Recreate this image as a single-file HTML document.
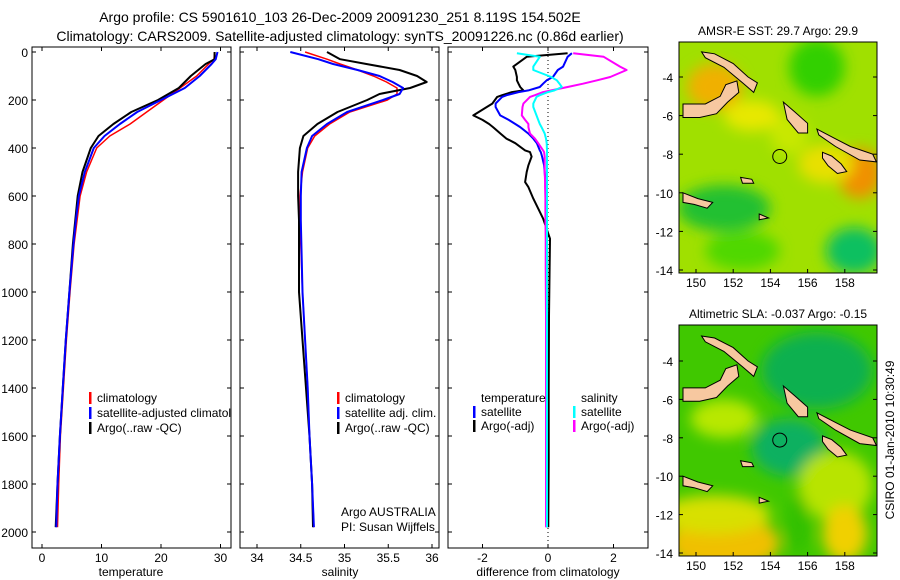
<!DOCTYPE html>
<html><head><meta charset="utf-8"><style>
body{margin:0;background:#fff;}
svg{display:block;font-family:"Liberation Sans",sans-serif;}
text{font-size:12px;fill:#000;}
</style></head><body>
<svg id="c" width="900" height="580" viewBox="0 0 900 580">
<defs>
<clipPath id="cp1"><rect x="32" y="47" width="199" height="501"/></clipPath>
<clipPath id="cp2"><rect x="240" y="47" width="199" height="501"/></clipPath>
<clipPath id="cp3"><rect x="448" y="47" width="200" height="501"/></clipPath>
<clipPath id="cm1"><rect x="679" y="42" width="198" height="231"/></clipPath>
<clipPath id="cm2"><rect x="679" y="325" width="198" height="231"/></clipPath>
<filter id="bl" x="-50%" y="-50%" width="200%" height="200%"><feGaussianBlur stdDeviation="7"/></filter>
<filter id="bl2" x="-50%" y="-50%" width="200%" height="200%"><feGaussianBlur stdDeviation="3"/></filter>
</defs>
<text x="340" y="22" text-anchor="middle" style="font-size:14px">Argo profile: CS 5901610_103 26-Dec-2009 20091230_251 8.119S 154.502E</text>
<text x="340" y="41" text-anchor="middle" style="font-size:14px">Climatology: CARS2009. Satellite-adjusted climatology: synTS_20091226.nc (0.86d earlier)</text>
<g id="g"></g>
<text transform="translate(894,440) rotate(-90)" text-anchor="middle">CSIRO 01-Jan-2010 10:30:49</text>
</svg>
<script>
// ---- data ----
const depthsT = [0,30,50,100,150,200,250,300,350,400,500,600,700,800,1000,1200,1400,1600,1800,1980];
const tempClim = [29,28.9,28,26,23.2,20.4,17.6,14.8,11.4,9.2,7.5,6.4,5.9,5.4,4.7,4.1,3.6,3.1,2.8,2.6];
const tempSat  = [29.5,29.2,28.5,26.5,24,20,16,13.1,10.5,8.7,7.2,6.2,5.7,5.3,4.6,4.0,3.5,3.0,2.6,2.4];
const tempArgo = [29,29,27.5,25,23,19.5,15,12,9.5,8.2,6.8,6,5.6,5.2,4.6,4.0,3.5,3.0,2.6,2.3];
const depthsS = [0,30,50,75,100,125,150,175,200,250,300,350,400,500,600,700,1000,1200,1400,1600,1800,1980];
const salClim = [34.55,34.8,34.95,35.15,35.33,35.48,35.6,35.6,35.49,35.06,34.83,34.66,34.58,34.52,34.49,34.49,34.52,34.55,34.58,34.6,34.63,34.65];
const salSat  = [34.38,34.7,34.87,35.15,35.4,35.55,35.67,35.63,35.44,35.03,34.8,34.63,34.57,34.51,34.5,34.5,34.52,34.55,34.58,34.6,34.63,34.65];
const salArgo = [34.8,34.95,35.25,35.63,35.83,35.94,35.75,35.4,35.26,34.92,34.69,34.53,34.49,34.47,34.47,34.48,34.48,34.52,34.56,34.6,34.63,34.64];
const depthsD = [5,20,61,75,104,118,132,146,160,167,180,187,215,229,264,283,300,313,340,361,380,410,417,436,472,500,542,563,611,694,778,900,1100,1400,1700,1980];
const dTempSat = [0.73,0.6,0.46,0.3,0.15,-0.04,-0.15,-0.25,-0.6,-0.9,-1.26,-1.4,-1.6,-1.6,-1.46,-1.2,-1.0,-0.85,-0.6,-0.45,-0.34,-0.25,-0.22,-0.18,-0.12,-0.1,-0.08,-0.08,-0.07,-0.06,-0.05,-0.05,-0.04,-0.04,-0.03,-0.03];
const dTempArgo = [0.6,-0.65,-1.06,-1.0,-0.95,-0.95,-0.9,-0.85,-0.75,-1.1,-1.4,-1.55,-1.7,-1.87,-2.28,-2.0,-1.8,-1.68,-1.45,-1.27,-1.0,-0.7,-0.55,-0.5,-0.6,-0.65,-0.7,-0.6,-0.45,-0.15,0.06,0.05,0.03,0.02,0.02,0.01];
const dSalSat = [-0.95,-0.25,-0.45,-0.45,0.1,0.27,0.35,0.42,0.2,0.0,-0.25,-0.35,-0.45,-0.45,-0.35,-0.3,-0.25,-0.2,-0.1,-0.06,-0.04,-0.03,-0.03,-0.03,-0.03,-0.03,-0.03,-0.03,-0.03,-0.03,-0.03,-0.03,-0.03,-0.03,-0.03,-0.03];
const dSalArgo = [0.77,1.7,2.2,2.4,1.9,1.5,1.07,0.6,0.1,-0.15,-0.4,-0.55,-0.75,-0.78,-0.8,-0.7,-0.6,-0.6,-0.55,-0.4,-0.3,-0.15,-0.12,-0.1,-0.1,-0.1,-0.09,-0.09,-0.08,-0.08,-0.07,-0.07,-0.06,-0.06,-0.06,-0.06];
const depthTicks = [0,200,400,600,800,1000,1200,1400,1600,1800,2000];
const tempTicks = [0,10,20,30];
const salTicks = [34,34.5,35,35.5,36];
const salLabels = ["34","34.5","35","35.5","36"];
const diffTicks = [-2,0,2];
const lonTicks = [150,152,154,156,158];
const latTicks = [-4,-6,-8,-10,-12,-14];
const floatLon = 154.502, floatLat = -8.119;

// ---- scales ----
const yD = d => 52 + d*0.24;
const xT = t => 42 + t*5.95;
const xS = s => 257 + (s-34)*87.5;
const xDf = v => 548 + v*32.75;
const mx = lon => 696 + (lon-150)*18.6;
const my1 = lat => 77 + (-4-lat)*19.3;
const my2 = lat => 361 + (-4-lat)*19.2;

const NS='http://www.w3.org/2000/svg';
const G=document.getElementById('g');
function el(tag,attrs,parent){const e=document.createElementNS(NS,tag);for(const k in attrs)e.setAttribute(k,attrs[k]);(parent||G).appendChild(e);return e;}
function txt(x,y,s,anchor,parent){const t=el('text',{x:x,y:y,'text-anchor':anchor||'start'},parent);t.textContent=s;return t;}

function panel(x0,x1,clip,name){
  const g=el('g',{});
  
  
  const f=el('rect',{x:x0,y:47,width:x1-x0,height:501,fill:'#fff',stroke:'#000','stroke-width':1},g);
  
  
  depthTicks.forEach(d=>{el('line',{x1:x0,x2:x0+4,y1:yD(d),y2:yD(d),stroke:'#000'},g);el('line',{x1:x1-4,x2:x1,y1:yD(d),y2:yD(d),stroke:'#000'},g);});
  return g;
}
function line(xs,ds,xf,color,clip,name,w){
  const pts=xs.map((v,i)=>xf(v).toFixed(1)+','+yD(ds[i]).toFixed(1)).join(' ');
  const p=el('polyline',{points:pts,fill:'none',stroke:color,'stroke-width':w||2,'clip-path':'url(#'+clip+')','stroke-linejoin':'round'});
  
  
}
function legendEntry(xt,y,color,label,name){
  const g=el('g',{});
  
  
  if(color) el('rect',{x:xt-8,y:y-10,width:2.5,height:12,fill:color},g);
  txt(xt,y,label,'start',g);
  return g;
}

// Panel 1: temperature
const p1=panel(32,231,'cp1','temperature-panel');
depthTicks.forEach(d=>{const t=txt(28,yD(d)+5,String(d),'end');});
tempTicks.forEach(t=>{el('line',{x1:xT(t),x2:xT(t),y1:47,y2:51,stroke:'#000'});el('line',{x1:xT(t),x2:xT(t),y1:544,y2:548,stroke:'#000'});const l=txt(xT(t),562,String(t),'middle');});
line(tempClim,depthsT,xT,'#f00','cp1','temp-climatology-line',1.5);
line(tempArgo,depthsT,xT,'#000','cp1','temp-argo-line',2);
line(tempSat,depthsT,xT,'#00f','cp1','temp-satellite-line',2);
{const t=txt(131,576,'temperature','middle');}
{const lg=el('g',{'clip-path':'url(#cp1)'});
 lg.appendChild(legendEntry(97,402,'#f00','climatology','legend-climatology'));
 lg.appendChild(legendEntry(97,417,'#00f','satellite-adjusted climatology','legend-satellite-adjusted'));
 lg.appendChild(legendEntry(97,432,'#000','Argo(..raw -QC)','legend-argo'));}

// Panel 2: salinity
panel(240,439,'cp2','salinity-panel');
salTicks.forEach((s,i)=>{el('line',{x1:xS(s),x2:xS(s),y1:47,y2:51,stroke:'#000'});el('line',{x1:xS(s),x2:xS(s),y1:544,y2:548,stroke:'#000'});const l=txt(xS(s),562,salLabels[i],'middle');});
line(salClim,depthsS,xS,'#f00','cp2','sal-climatology-line',1.5);
line(salArgo,depthsS,xS,'#000','cp2','sal-argo-line',2);
line(salSat,depthsS,xS,'#00f','cp2','sal-satellite-line',2);
{const t=txt(340,576,'salinity','middle');}
legendEntry(345,402,'#f00','climatology','legend-sal-climatology');
legendEntry(345,417,'#00f','satellite adj. clim.','legend-sal-satellite');
legendEntry(345,432,'#000','Argo(..raw -QC)','legend-sal-argo');
{const t=txt(341,516,'Argo AUSTRALIA');
 const t2=txt(341,531,'PI: Susan Wijffels');}

// Panel 3: differences
panel(448,648,'cp3','difference-panel');
diffTicks.forEach(v=>{el('line',{x1:xDf(v),x2:xDf(v),y1:47,y2:51,stroke:'#000'});el('line',{x1:xDf(v),x2:xDf(v),y1:544,y2:548,stroke:'#000'});const l=txt(xDf(v),562,String(v),'middle');});
{const z=el('line',{x1:xDf(0),x2:xDf(0),y1:52,y2:544,stroke:'#000','stroke-dasharray':'1,3'});}
line(dTempArgo,depthsD,xDf,'#000','cp3','diff-temp-argo-line',2);
line(dTempSat,depthsD,xDf,'#00f','cp3','diff-temp-satellite-line',2);
line(dSalArgo,depthsD,xDf,'#f0f','cp3','diff-sal-argo-line',2);
line(dSalSat,depthsD,xDf,'#0ff','cp3','diff-sal-satellite-line',2);
{const t=txt(548,576,'difference from climatology','middle');}
legendEntry(481,402,null,'temperature','legend-temperature-heading');
legendEntry(481,416,'#00f','satellite','legend-temp-satellite');
legendEntry(481,430,'#000','Argo(-adj)','legend-temp-argo');
legendEntry(581,402,null,'salinity','legend-salinity-heading');
legendEntry(581,416,'#0ff','satellite','legend-sal-satellite-diff');
legendEntry(581,430,'#f0f','Argo(-adj)','legend-sal-argo-diff');

// Maps
const lands=[
 [[150.3,-2.7],[151,-2.8],[152,-3.3],[152.8,-4],[153.3,-4.3],[153.1,-4.8],[152.5,-4.3],[151.5,-3.5],[150.5,-3]],
 [[149.3,-5.4],[150.5,-5.4],[151.3,-5],[151.6,-4.4],[152.2,-4.2],[152.3,-4.8],[151.7,-5.3],[151.1,-5.9],[150.2,-6.1],[149.3,-6.1]],
 [[154.7,-5.3],[155.3,-5.8],[156,-6.4],[156,-6.9],[155.5,-6.9],[154.9,-6.2]],
 [[156.5,-6.7],[157.5,-7.2],[158.3,-7.6],[159.5,-8],[159.7,-8.4],[158.8,-8.3],[157.5,-7.6],[156.6,-7]],
 [[156.8,-7.9],[157.3,-8.1],[157.8,-8.5],[158.1,-8.9],[157.6,-9],[157.1,-8.6],[156.8,-8.2]],
 [[149.3,-10],[150.1,-10.3],[150.9,-10.5],[150.6,-10.8],[149.9,-10.6],[149.3,-10.5]],
 [[152.4,-9.2],[153,-9.3],[153.1,-9.5],[152.5,-9.5]],
 [[153.4,-11.1],[153.9,-11.3],[153.4,-11.4]]
];
function drawMap(my,y0,clip,name,title,blobs,base){
  const g=el('g',{});
  
  
  const t=txt(778,y0-7,title,'middle',g);
  
  const inner=el('g',{'clip-path':'url(#'+clip+')'},g);
  el('rect',{x:679,y:y0,width:198,height:231,fill:base},inner);
  const bg=el('g',{filter:'url(#bl)'},inner);
  blobs.forEach(b=>el('ellipse',{cx:mx(b[0]),cy:my(b[1]),rx:b[2]*18.6,ry:b[3]*19.3,fill:b[4]},bg));
  lands.forEach(L=>{
    const pts=L.map(p=>mx(p[0]).toFixed(1)+','+my(p[1]).toFixed(1)).join(' ');
    const p=el('polygon',{points:pts,fill:'#f7c8a0',stroke:'#000','stroke-width':1},inner);
    
  });
  const c=el('circle',{cx:mx(floatLon),cy:my(floatLat),r:7,fill:'none',stroke:'#000','stroke-width':1},inner);
  
  el('rect',{x:679,y:y0,width:198,height:231,fill:'none',stroke:'#000'},g);
  latTicks.forEach(l=>{el('line',{x1:873,x2:877,y1:my(l),y2:my(l),stroke:'#000'},g);el('line',{x1:679,x2:683,y1:my(l),y2:my(l),stroke:'#000'},g);const tl=txt(673,my(l)+5,String(l),'end',g);});
  lonTicks.forEach(l=>{el('line',{x1:mx(l),x2:mx(l),y1:y0+227,y2:y0+231,stroke:'#000'},g);const tl=txt(mx(l),y0+245,String(l),'middle',g);});
}
drawMap(my1,42,'cm1','sst-map','AMSR-E SST: 29.7 Argo: 29.9',[
 [151,-4.5,1.5,1.2,'#f0b000'],[158.8,-9,1.2,1.3,'#f09000'],[157,-8.5,1.5,1,'#e8e000'],
 [156.5,-3.5,1.5,1.5,'#30d000'],[151.5,-10.8,2.5,1.2,'#20c030'],[158.5,-13,1.5,1.2,'#10c060'],
 [152.5,-13,2,1,'#50d800'],[155,-7,1,1,'#c8e800'],[153,-6,1.5,0.8,'#e8e800']
],'#a0e000');
drawMap(my2,325,'cm2','sla-map','Altimetric SLA: -0.037 Argo: -0.15',[
 [156.5,-4.5,3,2,'#10b050'],[155,-8.5,2,1.5,'#10b060'],[151.5,-7,1.8,1,'#b8e800'],
 [151.5,-13.5,3,1.5,'#f0c000'],[151,-12,3,1,'#d8e000'],[157.5,-10.5,2,1.8,'#b8e400'],
 [158,-13,1.2,1.5,'#f0d000'],[155.5,-12.5,0.6,1.5,'#30c000']
],'#40c800');
</script>
</body></html>
